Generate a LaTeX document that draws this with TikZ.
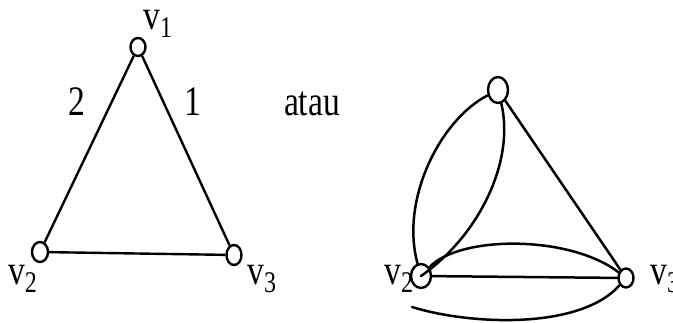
\documentclass[tikz,border=0pt]{standalone}
\usepackage{fontspec}
\setmainfont{Liberation Serif}
\usetikzlibrary{shapes.geometric}
\newcommand{\sq}[1]{\scalebox{0.8}[1]{#1}}
\newcommand{\vlab}[1]{\sq{v\raisebox{-8pt}{\fontsize{30}{30}\selectfont #1}}}
\tikzset{
  vert/.style={draw, ellipse, line width=2.4pt, inner sep=0pt, minimum width=#1},
  lbl/.style={inner sep=0pt, font=\fontsize{42}{42}\selectfont},
  vl/.style={lbl, anchor=base west, text height=20pt, text depth=9pt},
  edge/.style={line width=2.4pt},
  redge/.style={line width=2.5pt, line cap=round}
}
\begin{document}
\begin{tikzpicture}[x=1pt,y=-1pt]
\useasboundingbox (0,0) rectangle (673,323);
% left graph
\node[vert=15pt, minimum height=18pt] (L1) at (138,47) {};
\node[vert=16pt, minimum height=20pt] (L2) at (40,252) {};
\node[vert=15pt, minimum height=20pt] (L3) at (234,255) {};
\draw[edge] (L1) -- (L2);
\draw[edge] (L1) -- (L3);
\draw[edge] (L2) -- (L3);
\node[vl] (l1) at (143,30) {\vlab{1}};
\node[vl] (l2) at (8,285) {\vlab{2}};
\node[vl] (l3) at (247,285) {\vlab{3}};
\node[lbl, anchor=base] (w2) at (77,116) {\sq{2}};
\node[lbl, anchor=base] (w1) at (193,116) {\sq{1}};
\node[lbl, anchor=base] (atau) at (312,116) {\sq{atau}};
% right graph
\node[vert=20pt, minimum height=26pt] (T) at (498,90) {};
\node[vert=20pt, minimum height=24pt] (R2) at (421,276) {};
\node[vert=15pt, minimum height=19pt] (R3) at (626,278) {};
\coordinate (free) at (412,307);
\draw[redge] (T) -- (R3);
\draw[redge] (R2) -- (R3);
\draw[redge] (T) .. controls (440,120) and (400,200) .. (R2);
\draw[redge] (T) .. controls (515,160) and (480,235) .. (R2.center);
\draw[redge] (R2) .. controls (460,235) and (570,235) .. (R3);
\draw[redge] (free) .. controls (470,325) and (580,330) .. (R3);
\node[vl] (r2) at (384,285) {\vlab{2}};
\node[vl] (r3) at (650,285) {\vlab{3}};
\end{tikzpicture}
\end{document}
